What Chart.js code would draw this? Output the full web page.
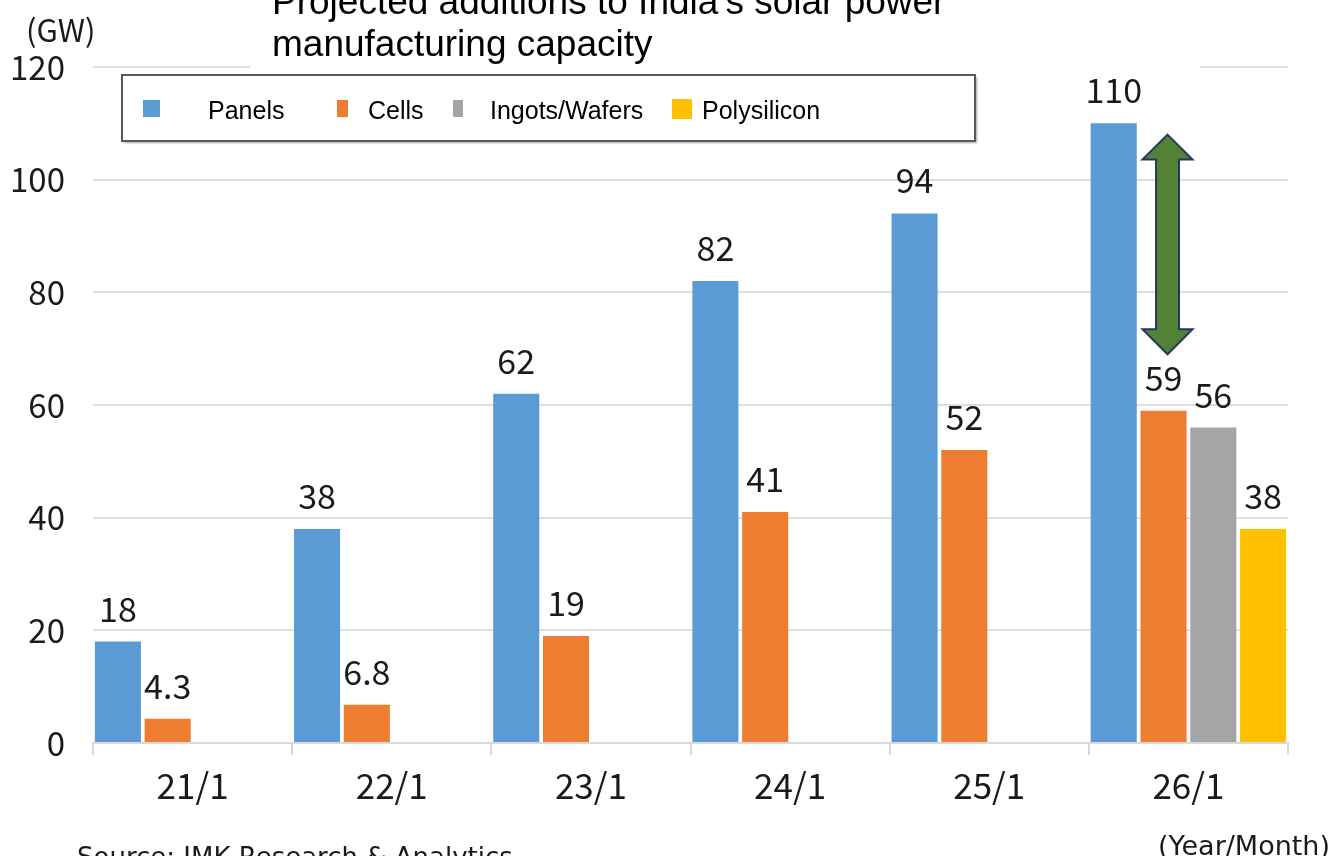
<!DOCTYPE html>
<html>
<head>
<meta charset="utf-8">
<title>India solar manufacturing capacity</title>
<script src="https://cdn.jsdelivr.net/npm/chart.js@4.4.1/dist/chart.umd.min.js"></script>
<style>
  html, body { margin: 0; padding: 0; background: #fff; }
  #wrap { width: 1332px; height: 856px; }
</style>
</head>
<body>
<div id="wrap"><canvas id="myChart" width="1332" height="856"></canvas></div>
<script>
const categories = ["21/1", "22/1", "23/1", "24/1", "25/1", "26/1"];
const panels = [18, 38, 62, 82, 94, 110];
const cells = [4.3, 6.8, 19, 41, 52, 59];
const ingotsWafers = [null, null, null, null, null, 56];
const polysilicon = [null, null, null, null, null, 38];
const yTicks = [0, 20, 40, 60, 80, 100, 120];
const titleLines = ["Projected additions to India's solar power", "manufacturing capacity"];
// double arrow showing the panels/cells gap in the last group
const gapArrow = { category: "26/1", from: 108, to: 69 };

const colors = ["#5b9bd5", "#ed7d31", "#a5a5a5", "#ffc000"];
const numFont = '"Noto Sans CJK JP", "Liberation Sans", sans-serif';
const sansFont = '"Liberation Sans", Arial, sans-serif';
const dejaFont = '"DejaVu Sans", Verdana, sans-serif';

const data = {
    labels: categories,
    datasets: [
        { label: "Panels", data: panels, backgroundColor: colors[0] },
        { label: "Cells", data: cells, backgroundColor: colors[1] },
        { label: "Ingots/Wafers", data: ingotsWafers, backgroundColor: colors[2] },
        { label: "Polysilicon", data: polysilicon, backgroundColor: colors[3] },
    ],
};

// value labels above each bar
const valueLabels = {
    id: "valueLabels",
    afterDatasetsDraw(chart) {
        const ctx = chart.ctx;
        ctx.save();
        ctx.font = "34px " + numFont;
        ctx.fillStyle = "#1a1a1a";
        ctx.textAlign = "center";
        ctx.textBaseline = "alphabetic";
        chart.data.datasets.forEach((ds, i) => {
            chart.getDatasetMeta(i).data.forEach((bar, j) => {
                const v = ds.data[j];
                if (v == null) return;
                ctx.fillText(String(v), bar.x, bar.y - 20);
            });
        });
        ctx.restore();
    },
};

// title, boxed legend, unit notes, source and the arrow
const decorations = {
    id: "decorations",
    afterDraw(chart) {
        const ctx = chart.ctx;
        ctx.save();

        // title text box (white, hides the top gridline behind it)
        ctx.fillStyle = "#fff";
        ctx.fillRect(250, 0, 950, 69);
        ctx.fillStyle = "#000";
        ctx.font = "37px " + sansFont;
        ctx.textAlign = "left";
        ctx.textBaseline = "alphabetic";
        ctx.fillText(titleLines[0], 272, 14);
        ctx.fillText(titleLines[1], 272, 56);

        // unit
        ctx.fillStyle = "#1a1a1a";
        ctx.font = "31px " + numFont;
        ctx.fillText("(GW)", 26, 42);

        // legend box
        ctx.save();
        ctx.shadowColor = "rgba(0,0,0,0.35)";
        ctx.shadowOffsetX = 2;
        ctx.shadowOffsetY = 2;
        ctx.shadowBlur = 2;
        ctx.fillStyle = "#fff";
        ctx.fillRect(122, 75, 853, 66);
        ctx.restore();
        ctx.strokeStyle = "#595959";
        ctx.lineWidth = 2;
        ctx.strokeRect(122, 75, 853, 66);

        const legendPos = [
            { box: [143, 100, 17, 17], text: 208 },
            { box: [337, 100, 11, 17], text: 368 },
            { box: [453, 100, 10, 17], text: 490 },
            { box: [672, 99, 20, 20], text: 702 },
        ];
        ctx.font = "25px " + sansFont;
        chart.data.datasets.forEach((ds, i) => {
            const p = legendPos[i];
            ctx.fillStyle = ds.backgroundColor;
            ctx.fillRect(p.box[0], p.box[1], p.box[2], p.box[3]);
            ctx.fillStyle = "#000";
            ctx.fillText(ds.label, p.text, 119);
        });

        // axis note and source
        ctx.fillStyle = "#1a1a1a";
        ctx.font = "27px " + dejaFont;
        ctx.textAlign = "right";
        ctx.fillText("(Year/Month)", 1330, 855);
        ctx.textAlign = "left";
        ctx.font = "26px " + dejaFont;
        ctx.fillText("Source: JMK Research & Analytics", 77, 866);

        // double arrow over the cells bar of the last group
        const yScale = chart.scales.y;
        const idx = categories.indexOf(gapArrow.category);
        const cellBar = chart.getDatasetMeta(1).data[idx];
        const cx = cellBar.x + 4;
        const yTop = yScale.getPixelForValue(gapArrow.from);
        const yBot = yScale.getPixelForValue(gapArrow.to);
        const head = 25, hw = 25, sw = 11.5;
        ctx.beginPath();
        ctx.moveTo(cx, yTop);
        ctx.lineTo(cx + hw, yTop + head);
        ctx.lineTo(cx + sw, yTop + head);
        ctx.lineTo(cx + sw, yBot - head);
        ctx.lineTo(cx + hw, yBot - head);
        ctx.lineTo(cx, yBot);
        ctx.lineTo(cx - hw, yBot - head);
        ctx.lineTo(cx - sw, yBot - head);
        ctx.lineTo(cx - sw, yTop + head);
        ctx.lineTo(cx - hw, yTop + head);
        ctx.closePath();
        ctx.fillStyle = "#548235";
        ctx.fill();
        ctx.strokeStyle = "#203864";
        ctx.lineWidth = 2;
        ctx.stroke();

        ctx.restore();
    },
};

const config = {
    type: "bar",
    data: data,
    options: {
        responsive: false,
        animation: false,
        devicePixelRatio: 1,
        layout: { padding: { top: 67, right: 44, bottom: 0, left: 0 } },
        datasets: {
            bar: { categoryPercentage: 1.0, barPercentage: 0.925 },
        },
        plugins: {
            legend: { display: false },
            title: { display: false },
            tooltip: { enabled: false },
        },
        scales: {
            x: {
                afterFit: (s) => { s.height = 113; },
                grid: {
                    offset: true,
                    drawOnChartArea: false,
                    drawTicks: true,
                    tickLength: 12,
                    color: "#d9d9d9",
                    lineWidth: 2,
                },
                border: { display: true, color: "#d9d9d9", width: 2 },
                ticks: {
                    color: "#1a1a1a",
                    font: { family: numFont, size: 35 },
                    padding: 10,
                    maxRotation: 0,
                },
            },
            y: {
                min: 0,
                max: 120,
                afterFit: (s) => { s.width = 93; },
                afterBuildTicks: (s) => { s.ticks = yTicks.map((v) => ({ value: v })); },
                grid: { color: "#dedede", lineWidth: 2, drawTicks: false },
                border: { display: false },
                ticks: {
                    color: "#1a1a1a",
                    font: { family: numFont, size: 33 },
                    padding: 28,
                },
            },
        },
    },
    plugins: [valueLabels, decorations],
};

const ctx = document.getElementById("myChart").getContext("2d");
const myChart = new Chart(ctx, config);
</script>
</body>
</html>
